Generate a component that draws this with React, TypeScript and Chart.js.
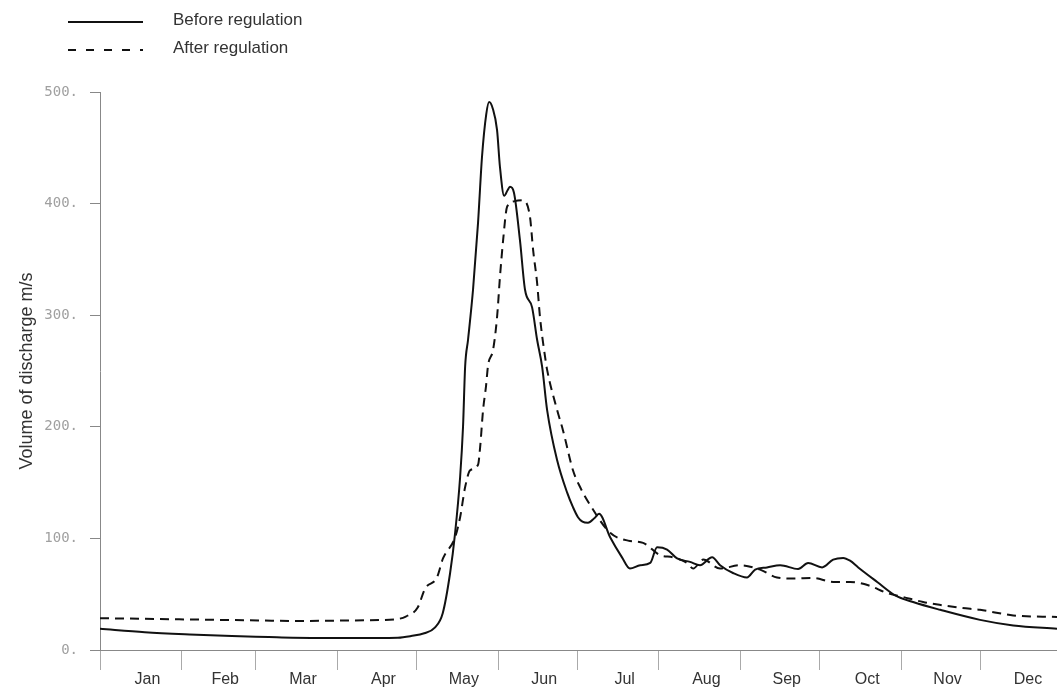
import React, { useEffect, useRef } from 'react';
import { Chart, registerables } from 'chart.js';

Chart.register(...registerables);

const monthNames = ['Jan', 'Feb', 'Mar', 'Apr', 'May', 'Jun', 'Jul', 'Aug', 'Sep', 'Oct', 'Nov', 'Dec'];
const monthStarts = [0, 31, 59, 90, 120, 151, 181, 212, 243, 273, 304, 334];
const monthLengths = [31, 28, 31, 30, 31, 30, 31, 31, 30, 31, 30, 31];
const yTickValues = [0, 100, 200, 300, 400, 500];

const beforeDays = [
  0, 17, 34, 50, 64, 73, 90, 105, 113, 118, 123, 127, 130, 132.8, 134.7, 136.6, 137.7, 138.5, 139.6,
  141.5, 143.4, 144.9, 146.5, 147.6, 149, 150.6, 151.7, 153.3, 154.6, 155.5, 157, 159.3, 161.2, 163.9,
  165.8, 167.7, 169.6, 173.4, 177.2, 179.4, 181.3, 183, 185.1, 187.5, 189.3, 193.5, 198, 201, 204.9,
  208.7, 211.3, 215.1, 218.9, 223.8, 227.6, 232.2, 235.2, 240.1, 245.4, 248.5, 253, 258, 264.8, 268.6,
  273.9, 278.1, 281.9, 284.5, 287.6, 294.8, 301.6, 308.4, 318.7, 333.8, 346.4, 363,
];
const beforeValues = [
  19, 16, 14, 12.5, 11.6, 11, 10.8, 10.8, 11, 12.5, 15, 20, 33, 69, 105, 155, 200, 254, 278,
  323, 383, 442, 480, 491, 485, 466, 433, 407, 412, 415, 410, 367, 323, 307,
  278, 254, 215, 170, 141, 128, 119, 115, 114, 118, 122, 101, 83, 73, 76,
  78, 92, 90, 82, 79, 76, 83, 76, 69, 65, 72, 74, 76, 72.6, 78,
  74, 81, 82.5, 80, 74, 61, 49, 43, 36, 27, 22, 19,
];

const afterDays = [
  0, 30, 60, 75, 95, 112, 116, 120.5, 123.3, 127.8, 130.1, 134.7, 136.6, 138.5, 140.4, 143.4, 144.2,
  145.3, 146.4, 147.2, 149.1, 150.6, 151.7, 152.9, 154.4, 157, 160.5, 163.1, 164.3, 165.8, 166.9, 168.8,
  169.6, 173.4, 175.6, 179.4, 182.1, 185.9, 193.5, 200.3, 206, 212.4, 217.4, 222.7, 225, 228.8, 235.2,
  242.8, 250.4, 256.8, 262.9, 270.5, 278.1, 284.5, 291.4, 298.6, 304.6, 312.2, 319.8, 327, 333.8, 346.4, 363,
];
const afterValues = [
  28.5, 27.5, 26.5, 26, 26.5, 27.5, 30, 38, 55, 65, 82, 101, 119, 146, 161, 166, 182,
  215, 236, 255, 269, 298, 334, 367, 397, 402, 403, 388, 358, 329, 298, 263,
  251, 215, 197, 161, 146, 130, 105, 98, 96, 85, 83, 78, 73, 81, 73,
  76, 72, 65, 64, 64.5, 61, 61, 58, 51, 47.5, 43, 40, 37.6, 36, 31, 29.6,
];

const toPoints = (xs: number[], ys: number[]) => xs.map((x, i) => ({ x, y: ys[i] }));

const labelPositions = monthStarts.map((s, i) => s + monthLengths[i] / 2 + 2.5);
const allTicks = [...monthStarts, ...labelPositions].sort((a, b) => a - b);

const legendPlugin = {
  id: 'stackedLegend',
  afterDraw(chart: any) {
    const ctx = chart.ctx;
    ctx.save();
    chart.data.datasets.forEach((ds: any, i: number) => {
      const y = 22 + i * 28;
      ctx.beginPath();
      ctx.setLineDash(ds.legendDash || []);
      ctx.lineWidth = 2;
      ctx.strokeStyle = ds.borderColor;
      ctx.moveTo(68, y);
      ctx.lineTo(143, y);
      ctx.stroke();
      ctx.setLineDash([]);
      ctx.fillStyle = '#333';
      ctx.font = '17px "Liberation Sans", Arial, sans-serif';
      ctx.textBaseline = 'middle';
      ctx.textAlign = 'left';
      ctx.fillText(ds.label, 173, y - 2);
    });
    ctx.restore();
  },
};

export default function App() {
  const canvasRef = useRef<HTMLCanvasElement | null>(null);

  useEffect(() => {
    if (!canvasRef.current) return;
    const chart = new Chart(canvasRef.current, {
      type: 'line',
      data: {
        datasets: [
          {
            label: 'Before regulation',
            data: toPoints(beforeDays, beforeValues),
            borderColor: '#111',
            borderWidth: 2,
            pointRadius: 0,
            cubicInterpolationMode: 'monotone',
            fill: false,
            legendDash: [],
          } as any,
          {
            label: 'After regulation',
            data: toPoints(afterDays, afterValues),
            borderColor: '#111',
            borderWidth: 2,
            borderDash: [9, 6],
            pointRadius: 0,
            cubicInterpolationMode: 'monotone',
            fill: false,
            legendDash: [8, 10],
          } as any,
        ],
      },
      options: {
        animation: false,
        responsive: false,
        devicePixelRatio: 1,
        layout: { padding: { top: 92, right: 0, bottom: 0, left: 0 } },
        plugins: {
          legend: { display: false },
          tooltip: { enabled: false },
        },
        scales: {
          x: {
            type: 'linear',
            min: 0,
            max: 363,
            afterBuildTicks: (scale: any) => {
              scale.ticks = allTicks.map((v) => ({ value: v }));
            },
            afterFit: (scale: any) => {
              scale.height = 42;
            },
            ticks: {
              autoSkip: false,
              maxRotation: 0,
              minRotation: 0,
              padding: 0,
              color: '#333',
              font: { family: '"Liberation Sans", Arial, sans-serif', size: 16 },
              callback: (value: any) => {
                const idx = labelPositions.indexOf(Number(value));
                return idx >= 0 ? monthNames[idx] : '';
              },
            },
            grid: {
              drawOnChartArea: false,
              drawTicks: true,
              tickLength: 20,
              tickColor: (ctx: any) =>
                ctx.tick && monthStarts.includes(ctx.tick.value) ? '#aaa' : 'rgba(0,0,0,0)',
            },
            border: { color: '#888', width: 1 },
          },
          y: {
            type: 'linear',
            min: 0,
            max: 500,
            afterBuildTicks: (scale: any) => {
              scale.ticks = yTickValues.map((v) => ({ value: v }));
            },
            afterFit: (scale: any) => {
              scale.width = 100;
            },
            ticks: {
              padding: 12,
              color: '#a0a0a0',
              font: { family: '"DejaVu Sans Mono", monospace', size: 14 },
              callback: (value: any) => `${value}.`,
            },
            grid: {
              drawOnChartArea: false,
              drawTicks: true,
              tickLength: 10,
              tickColor: '#888',
            },
            border: { color: '#888', width: 1 },
            title: {
              display: true,
              text: 'Volume of discharge m/s',
              color: '#333',
              font: { family: '"Liberation Sans", Arial, sans-serif', size: 18 },
              padding: { top: 16, bottom: 0 },
            },
          },
        },
      },
      plugins: [legendPlugin],
    } as any);
    return () => chart.destroy();
  }, []);

  return (
    <div style={{ position: 'fixed', left: 0, top: 0, width: 1057, height: 692, background: '#fff' }}>
      <canvas ref={canvasRef} width={1057} height={692} />
    </div>
  );
}
